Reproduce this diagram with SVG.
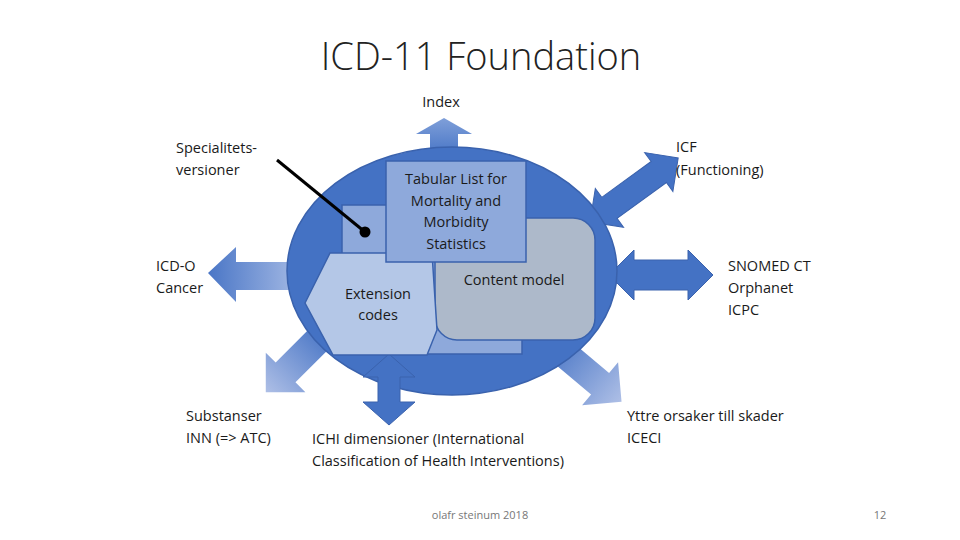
<svg xmlns="http://www.w3.org/2000/svg" width="960" height="540" viewBox="0 0 960 540">
<defs>
<style>
text{font-family:"Open Sans","Liberation Sans",sans-serif;font-size:14.5px;fill:#1a1a1a}
.c{text-anchor:middle}
.arr{fill:#4472C4;stroke:#3a62ad;stroke-width:1}
</style>
<linearGradient id="gL" x1="0" y1="0" x2="1" y2="0"><stop offset="0" stop-color="#4a76c6"/><stop offset="1" stop-color="#a9bde6"/></linearGradient>
<linearGradient id="gOut" x1="0" y1="0" x2="1" y2="0"><stop offset="0" stop-color="#4472C4"/><stop offset="1" stop-color="#aebfe6"/></linearGradient>
<linearGradient id="gUp" x1="0" y1="1" x2="0" y2="0"><stop offset="0" stop-color="#4472C4"/><stop offset="1" stop-color="#7f9fd9"/></linearGradient>
</defs>
<rect width="960" height="540" fill="#fff"/>
<text class="c" x="481" y="70" style="font-size:38px;font-family:'Open Sans','Liberation Sans',sans-serif;font-weight:300;fill:#222">ICD-11 Foundation</text>
<g id="connectors">
<polygon points="430,158 430,134 416,134 444,118 472,134 458,134 458,158" fill="url(#gUp)"/>
<polygon points="305,262 236,262 236,247 208,273 236,302 236,290 305,290" fill="url(#gL)"/>
<polygon transform="translate(328,330) rotate(135)" points="0,-14 60,-14 60,-28 88,0 60,28 60,14 0,14" fill="url(#gOut)"/>
<polygon transform="translate(548,340) rotate(40)" points="0,-14 68,-14 68,-28 96,0 68,28 68,14 0,14" fill="url(#gOut)"/>
<polygon class="arr" transform="translate(590,222) rotate(-36)" points="0,0 24,-24 24,-13 85,-13 85,-24 109,0 85,24 85,13 24,13 24,24"/>
<polygon class="arr" points="609,275 634,250 634,260 688,260 688,250 713,275 688,300 688,290 634,290 634,300"/>
</g>
<g id="foundation">
<ellipse cx="452" cy="271" rx="165" ry="124" fill="#4472C4" stroke="#3a62ad" stroke-width="1.5"/>
</g>
<g id="bottom-arrow">
<polygon class="arr" points="389,354 415,377 400,377 400,402 415,402 389,425 363,402 378,402 378,377 363,377"/>
</g>
<g id="back">
<rect x="342" y="205" width="180" height="149" fill="#8EA9DB" stroke="#3a62ad" stroke-width="1.5"/>
</g>
<g id="content-model">
<rect x="435" y="218" width="160" height="122" rx="22" fill="#ADB9CA" stroke="#3a62ad" stroke-width="1.5"/>
<text class="c" x="514" y="285">Content model</text>
</g>
<g id="extension-codes">
<polygon points="305,303 330,253 432,253 437,330 427,355 333,355" fill="#B4C7E7" stroke="#3a62ad" stroke-width="1.5"/>
<text class="c" x="378" y="299">Extension</text>
<text class="c" x="378" y="320">codes</text>
</g>
<g id="tabular">
<rect x="386" y="161" width="140" height="101" fill="#8EA9DB" stroke="#3a62ad" stroke-width="1.5"/>
<text class="c" x="456" y="184">Tabular List for</text>
<text class="c" x="456" y="206">Mortality and</text>
<text class="c" x="456" y="227">Morbidity</text>
<text class="c" x="456" y="249">Statistics</text>
</g>
<g id="pin">
<line x1="277" y1="160" x2="365" y2="232" stroke="#000" stroke-width="3"/>
<circle cx="365" cy="232" r="5.5" fill="#000"/>
</g>
<g id="labels">
<text class="c" x="441" y="107">Index</text>
<text x="176" y="153">Specialitets-</text>
<text x="176" y="175">versioner</text>
<text x="156" y="271">ICD-O</text>
<text x="156" y="293">Cancer</text>
<text x="186" y="421">Substanser</text>
<text x="186" y="443">INN (=&gt; ATC)</text>
<text x="312" y="444">ICHI dimensioner  (International</text>
<text x="312" y="466">Classification of Health Interventions)</text>
<text x="627" y="421">Yttre orsaker till skader</text>
<text x="627" y="443">ICECI</text>
<text x="728" y="271">SNOMED CT</text>
<text x="728" y="293">Orphanet</text>
<text x="728" y="315">ICPC</text>
<text x="676" y="152">ICF</text>
<text x="676" y="175">(Functioning)</text>
<text class="c" x="480" y="519" style="font-size:11px;fill:#777">olafr steinum 2018</text>
<text class="c" x="880" y="519" style="font-size:11px;fill:#777">12</text>
</g>
</svg>
